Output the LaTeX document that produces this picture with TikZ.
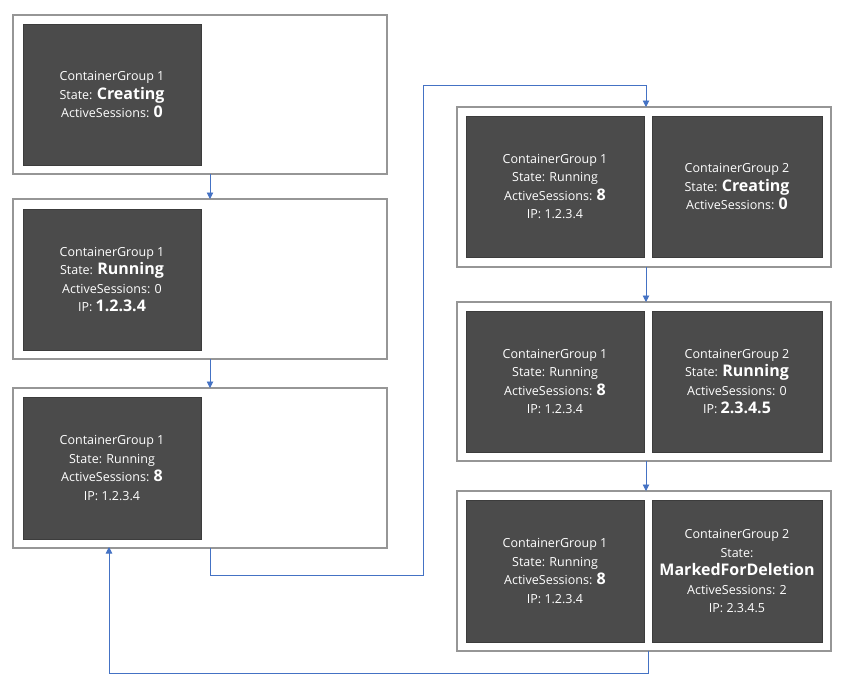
\documentclass[tikz,border=0pt]{standalone}
\usepackage{fontspec}
\setmainfont{Open Sans}
\usetikzlibrary{arrows.meta}
\definecolor{cgfill}{HTML}{4B4B4B}
\definecolor{framecol}{HTML}{969696}
\definecolor{flowcol}{HTML}{4472C4}
\newcommand{\val}[1]{{\fontsize{16}{19}\selectfont\bfseries #1}}
\tikzset{
  stage/.style={draw=framecol, line width=1.1pt, fill=white, anchor=north west,
    inner sep=0pt, outer sep=0pt},
  group/.style={fill=cgfill, draw=cgfill!80!black, line width=0.4pt, text=white,
    align=center, anchor=north west, inner sep=0pt, outer sep=0pt,
    font=\fontsize{12.5}{18.5}\selectfont},
  flow/.style={draw=flowcol, line width=0.9pt,
    -{Triangle[width=6.5pt,length=6.5pt]}}
}
\begin{document}
\begin{tikzpicture}[x=1pt,y=-1pt]
\useasboundingbox (0,0) rectangle (842,691);
\fill[white] (0,0) rectangle (842,691);

% left column: single container group
\node[stage, minimum width=374pt, minimum height=159pt] (A) at (13,15) {};
\node[stage, minimum width=374pt, minimum height=160pt] (B) at (13,199) {};
\node[stage, minimum width=374pt, minimum height=160pt] (C) at (13,388) {};

\node[group, minimum width=178pt, minimum height=141pt] (A1) at (23,24)
  {ContainerGroup 1\\State: \val{Creating}\\ActiveSessions: \val{0}};
\node[group, minimum width=178pt, minimum height=141pt] (B1) at (23,209)
  {ContainerGroup 1\\State: \val{Running}\\ActiveSessions: 0\\IP: \val{1.2.3.4}};
\node[group, minimum width=178pt, minimum height=142pt] (C1) at (23,397)
  {ContainerGroup 1\\State: Running\\ActiveSessions: \val{8}\\IP: 1.2.3.4};

% right column: two container groups
\node[stage, minimum width=374pt, minimum height=160pt] (D) at (457,107) {};
\node[stage, minimum width=374pt, minimum height=159pt] (E) at (457,302) {};
\node[stage, minimum width=374pt, minimum height=160pt] (F) at (457,491) {};

\node[group, minimum width=178pt, minimum height=141pt] (D1) at (466,116)
  {ContainerGroup 1\\State: Running\\ActiveSessions: \val{8}\\IP: 1.2.3.4};
\node[group, minimum width=170pt, minimum height=141pt] (D2) at (652,116)
  {ContainerGroup 2\\State: \val{Creating}\\ActiveSessions: \val{0}};
\node[group, minimum width=178pt, minimum height=141pt] (E1) at (466,311)
  {ContainerGroup 1\\State: Running\\ActiveSessions: \val{8}\\IP: 1.2.3.4};
\node[group, minimum width=170pt, minimum height=141pt] (E2) at (652,311)
  {ContainerGroup 2\\State: \val{Running}\\ActiveSessions: 0\\IP: \val{2.3.4.5}};
\node[group, minimum width=178pt, minimum height=142pt] (F1) at (466,500)
  {ContainerGroup 1\\State: Running\\ActiveSessions: \val{8}\\IP: 1.2.3.4};
\node[group, minimum width=170pt, minimum height=142pt] (F2) at (652,500)
  {ContainerGroup 2\\State:\\\val{MarkedForDeletion}\\ActiveSessions: 2\\IP: 2.3.4.5};

% routing points
\coordinate (lx) at (210,0);
\coordinate (rx) at (646,0);
\coordinate (k1) at (210,575);
\coordinate (k2) at (423,575);
\coordinate (k3) at (423,85);
\coordinate (k4) at (646,85);
\coordinate (r1) at (648,673);
\coordinate (r2) at (109,673);

% transitions
\draw[flow] (A.south -| lx) -- (B.north -| lx);
\draw[flow] (B.south -| lx) -- (C.north -| lx);
\draw[flow] (C.south -| k1) -- (k1) -- (k2) -- (k3) -- (k4) -- (D.north -| k4);
\draw[flow] (D.south -| rx) -- (E.north -| rx);
\draw[flow] (E.south -| rx) -- (F.north -| rx);
\draw[flow] (F.south -| r1) -- (r1) -- (r2) -- ([yshift=1pt]C.south -| r2);
\end{tikzpicture}
\end{document}
